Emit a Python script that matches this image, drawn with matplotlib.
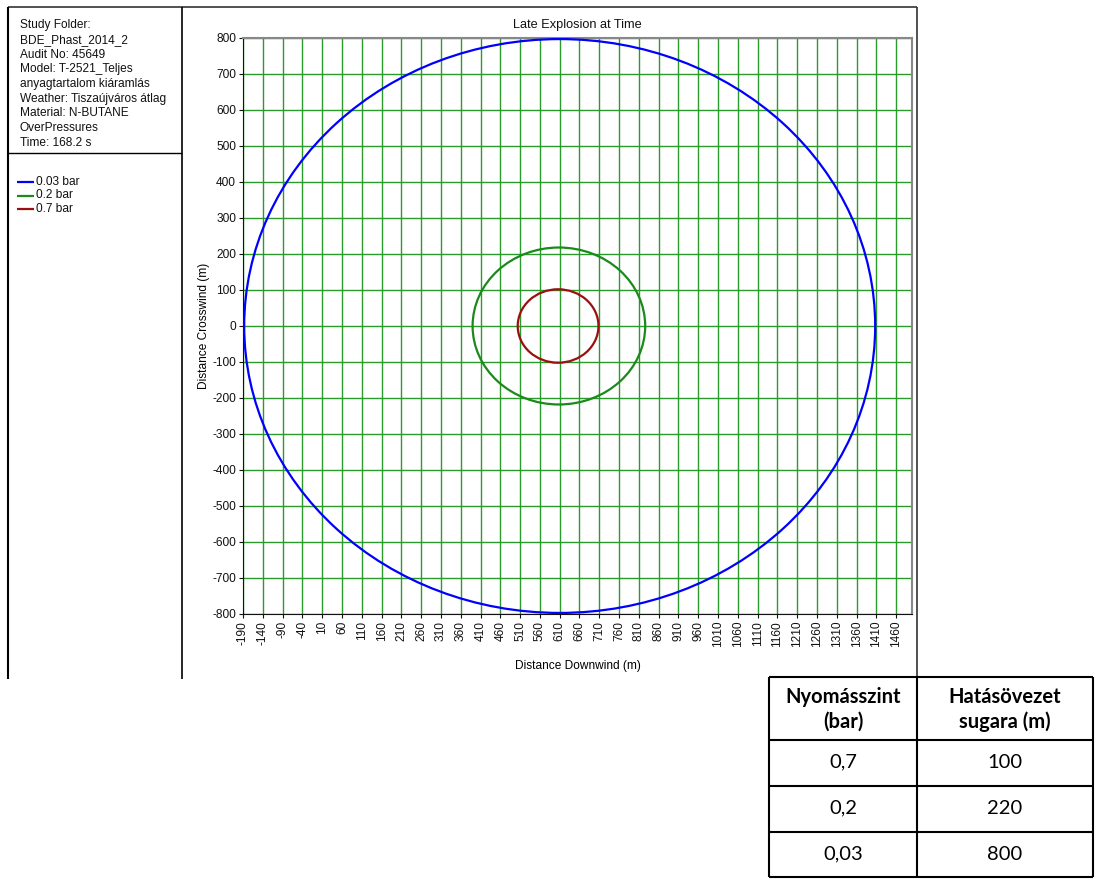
import matplotlib
matplotlib.use("Agg")
import matplotlib.pyplot as plt
import matplotlib.patches as patches

# contour data: overpressure level, centre (downwind), radius
levels = ["0.03 bar", "0.2 bar", "0.7 bar"]
level_colors = ["#0000ff", "#1a8a1a", "#9a1010"]
centre_x = [610, 608, 606]
radius = [797, 218, 102]

x_ticks = list(range(-190, 1461, 50))
y_ticks = list(range(-800, 801, 100))

info_lines = ["Study Folder:", "BDE_Phast_2014_2", "Audit No: 45649",
              "Model: T-2521_Teljes", "anyagtartalom kiáramlás",
              "Weather: Tiszaújváros átlag", "Material: N-BUTANE",
              "OverPressures", "Time: 168.2 s"]

table_header = [["Nyomásszint", "(bar)"], ["Hatásövezet", "sugara (m)"]]
table_pressure = ["0,7", "0,2", "0,03"]
table_radius = ["100", "220", "800"]

W, H = 1109, 892
fig = plt.figure(figsize=(W / 100, H / 100), dpi=100)
plt.rcParams["font.family"] = ["Liberation Sans", "DejaVu Sans"]
FS = 8.6

# overlay axes in pixel coordinates for frames, info panel and table
ov = fig.add_axes([0, 0, 1, 1])
ov.set_xlim(0, W)
ov.set_ylim(H, 0)
ov.axis("off")


def px_line(x0, y0, x1, y1, color="black", lw=1.0):
    ov.plot([x0, x1], [y0, y1], color=color, lw=lw, solid_capstyle="butt")


# screenshot frame
px_line(8, 7, 917, 7, color="#333333", lw=1.2)
px_line(917, 7, 917, 679, color="#333333", lw=1.2)
px_line(8, 7, 8, 679, lw=1.5)
px_line(182, 7, 182, 679, lw=1.2)
px_line(8, 153, 182, 153, lw=1.0)

for i, line in enumerate(info_lines):
    ov.text(20, 25 + i * 14.75, line, fontsize=FS, va="center", ha="left",
            color="#111111")

for i, (lab, col) in enumerate(zip(levels, level_colors)):
    y = 182 + i * 13.5
    px_line(17, y, 34, y, color=col, lw=1.6)
    ov.text(36, y, lab, fontsize=FS, va="center", ha="left", color="#111111")

# table
tfont = ["Lato", "DejaVu Sans"]
tx = [769, 917, 1093]
ty = [677, 740, 786, 832, 877]
for x in tx:
    px_line(x, ty[0], x, ty[-1], lw=1.5)
for y in ty:
    px_line(tx[0], y, tx[-1], y, lw=1.5)
for j, hdr in enumerate(table_header):
    cx = (tx[j] + tx[j + 1]) / 2
    ov.text(cx, 697, hdr[0], fontsize=14.5, fontweight="bold", ha="center",
            va="center", family=tfont)
    ov.text(cx, 722, hdr[1], fontsize=14.5, fontweight="bold", ha="center",
            va="center", family=tfont)
for i, (p, r) in enumerate(zip(table_pressure, table_radius)):
    cy = ty[i + 1] + 22
    ov.text((tx[0] + tx[1]) / 2, cy, p, fontsize=14.5, ha="center",
            va="center", family=tfont)
    ov.text((tx[1] + tx[2]) / 2, cy, r, fontsize=14.5, ha="center",
            va="center", family=tfont)

# main plot
left, right, top, bottom = 243, 912, 38, 614
ax = fig.add_axes([left / W, 1 - bottom / H, (right - left) / W,
                   (bottom - top) / H])
ax.set_xlim(-190, 1500)
ax.set_ylim(-800, 800)
ax.set_xticks(x_ticks)
ax.set_xticklabels([str(v) for v in x_ticks], rotation=90, fontsize=FS)
ax.set_yticks(y_ticks)
ax.set_yticklabels([str(v) for v in y_ticks], fontsize=FS)
ax.tick_params(length=3, width=0.8, pad=2, colors="#111111")
ax.grid(True, color="#2a9a2a", lw=1.0)
ax.set_axisbelow(True)
for side in ["top", "right"]:
    ax.spines[side].set_color("#888888")
    ax.spines[side].set_linewidth(1.5)
for side in ["left", "bottom"]:
    ax.spines[side].set_color("#111111")

for cx, r, col in zip(centre_x, radius, level_colors):
    ax.add_patch(patches.Circle((cx, 0), r, fill=False, edgecolor=col,
                                lw=1.6, zorder=3))

ax.set_title("Late Explosion at Time", fontsize=9.2, pad=7, color="#111111")
ax.set_xlabel("Distance Downwind (m)", fontsize=FS, labelpad=9)
ax.set_ylabel("Distance Crosswind (m)", fontsize=FS, labelpad=2)

fig.savefig("out.png", dpi=100)
